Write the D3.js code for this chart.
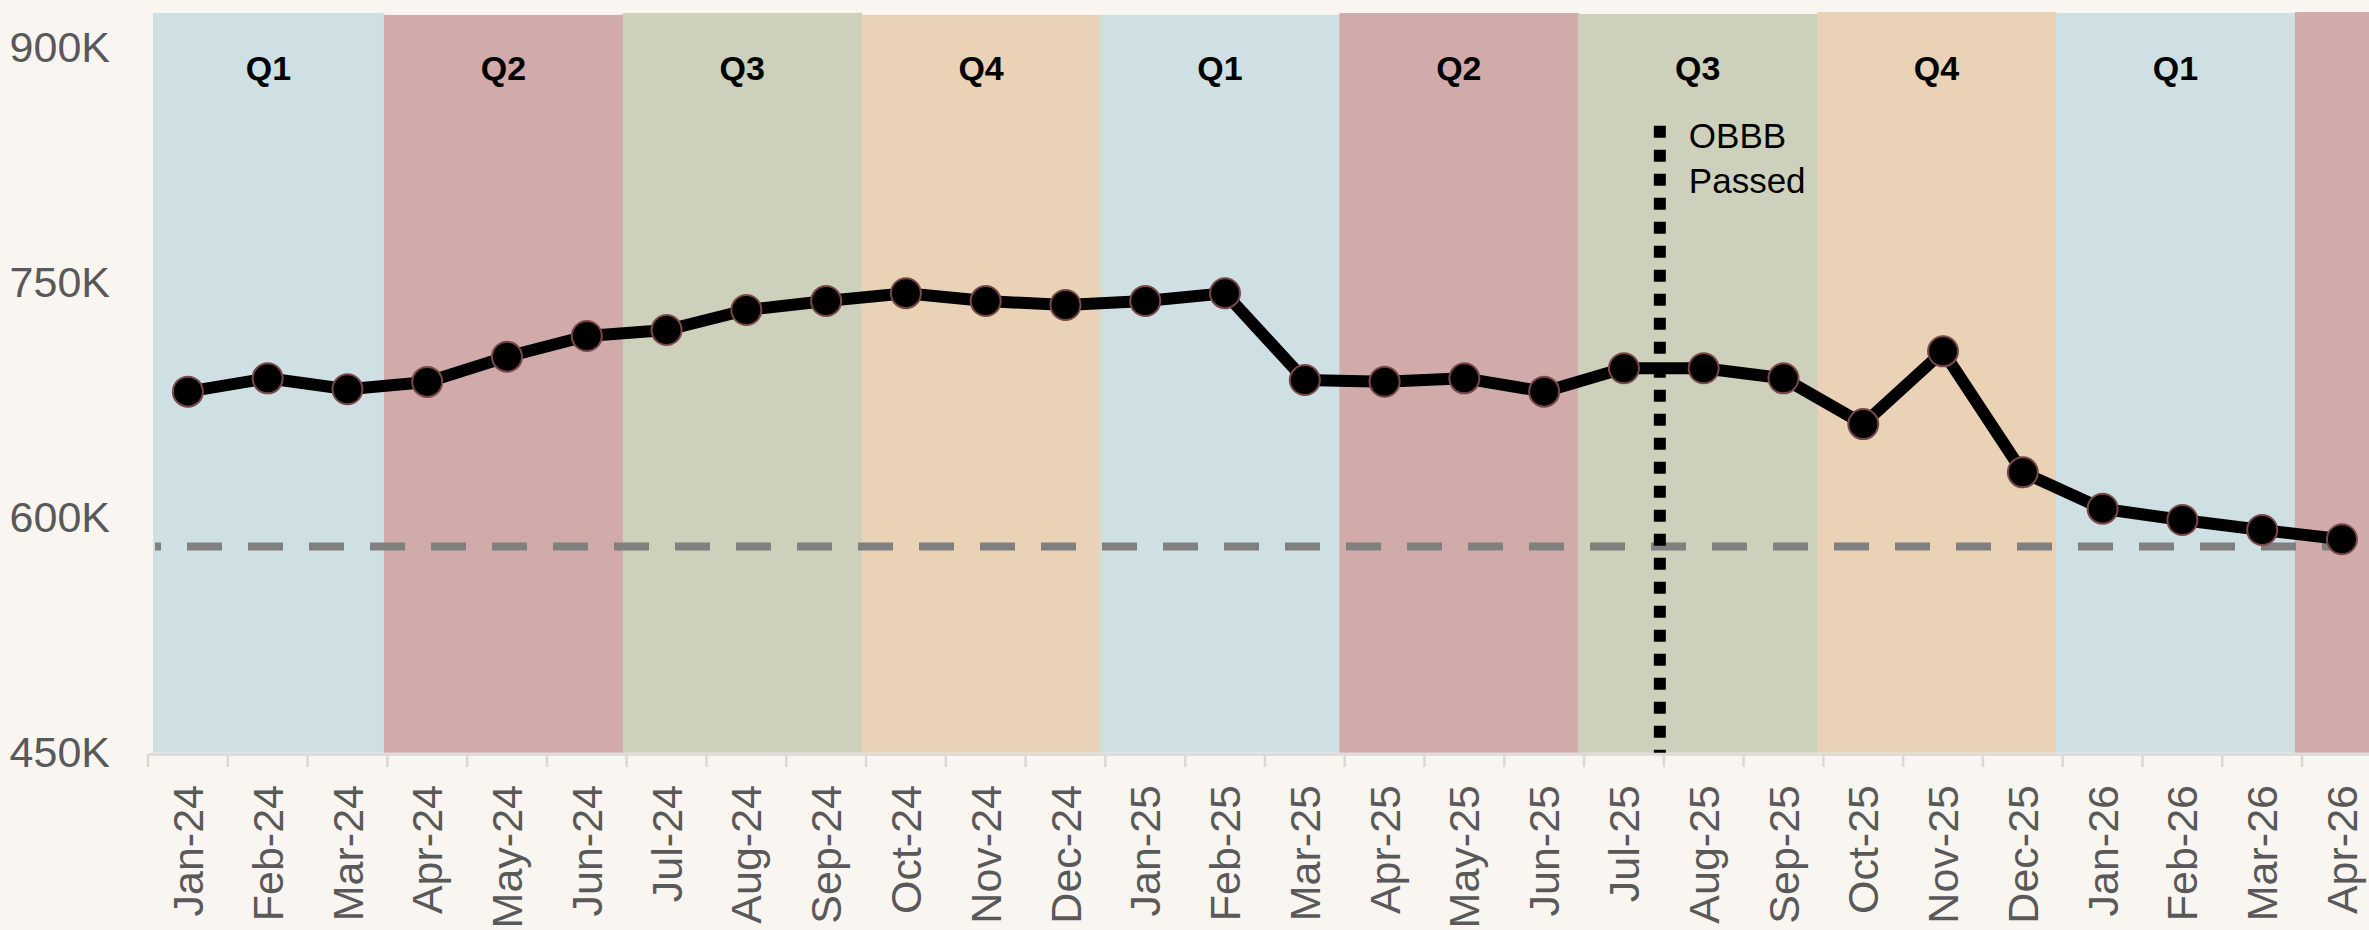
<!DOCTYPE html>
<html>
<head>
<meta charset="utf-8">
<script src="https://cdn.jsdelivr.net/npm/d3@7"></script>
<style>
  html, body { margin: 0; padding: 0; background: #f9f5f0; overflow: hidden; }
  svg { display: block; }
</style>
</head>
<body>
<svg id="chart" width="2369" height="930"></svg>
<script>
// ---------- DATA ----------
const months = ["Jan-24","Feb-24","Mar-24","Apr-24","May-24","Jun-24","Jul-24","Aug-24","Sep-24","Oct-24","Nov-24","Dec-24",
                "Jan-25","Feb-25","Mar-25","Apr-25","May-25","Jun-25","Jul-25","Aug-25","Sep-25","Oct-25","Nov-25","Dec-25",
                "Jan-26","Feb-26","Mar-26","Apr-26"];
// values in thousands
const values = [680.4, 688.9, 681.9, 686.6, 702.7, 715.9, 719.7, 732.5, 738.2, 743.2, 738.2, 735.7,
                738.2, 743.2, 687.8, 686.7, 688.9, 680.4, 695.3, 695.3, 688.9, 659.7, 706.1, 628.9,
                605.7, 598.5, 592.1, 586.2];
const quarterLabels = ["Q1","Q2","Q3","Q4","Q1","Q2","Q3","Q4","Q1","Q2"];
const quarterTops = [922.0, 920.8, 922.0, 920.8, 920.8, 922.0, 921.4, 922.6, 922.0, 922.6]; // thousands
const yTicks = [450, 600, 750, 900];
const referenceLevel = 581.5;         // dashed horizontal line (thousands)
const eventPos = 18.95;               // month index where the event line sits
const eventTop = 850;                 // thousands
const eventLabel = ["OBBB", "Passed"];

// ---------- STYLE ----------
const quarterColors = { Q1: "#cee0e4", Q2: "#d0abaa", Q3: "#cdd1bb", Q4: "#e9d2b5" };
const W = 2369, H = 930;
const left = 148, step = 79.78;
const plotLeft = 153;
const svg = d3.select("#chart");

svg.append("rect").attr("width", W).attr("height", H).attr("fill", "#f9f5f0");

// ---------- SCALES ----------
const y = d3.scaleLinear().domain([450, 900]).range([752.7, 47.5]);
const x = d3.scaleBand().domain(months).range([left, left + months.length * step]).padding(0);
const xi = d3.scaleLinear().domain([0, months.length]).range(x.range());
const xq = d3.scaleBand().domain(d3.range(quarterLabels.length))
  .range([145.1, 145.1 + quarterLabels.length * 238.86]).padding(0);
const qx0 = i => Math.max(xq(i), plotLeft);
const qx1 = i => xq(i) + xq.bandwidth();

// ---------- QUARTER BANDS ----------
const bands = svg.append("g");
bands.selectAll("rect").data(quarterLabels).join("rect")
  .attr("x", (d, i) => qx0(i))
  .attr("width", (d, i) => qx1(i) - qx0(i) + 0.5)
  .attr("y", (d, i) => y(quarterTops[i]))
  .attr("height", (d, i) => y(450) - y(quarterTops[i]))
  .attr("fill", d => quarterColors[d]);

const qLabelData = quarterLabels.map((d, i) => ({ d, cx: (qx0(i) + qx1(i)) / 2 }))
  .filter(o => o.cx + 30 < W);
bands.selectAll("text").data(qLabelData).join("text")
  .attr("x", o => o.cx)
  .attr("y", 80)
  .attr("text-anchor", "middle")
  .attr("font-family", "'Liberation Sans', Arial, sans-serif")
  .attr("font-weight", "bold")
  .attr("font-size", 34)
  .attr("fill", "#000")
  .text(o => o.d);

// ---------- Y AXIS ----------
const yAxis = svg.append("g").attr("transform", `translate(${left},0)`)
  .call(d3.axisLeft(y).tickValues(yTicks).tickFormat(d => d + "K").tickSize(0).tickPadding(38));
yAxis.select(".domain").remove();
yAxis.selectAll("text")
  .attr("font-family", "'Liberation Sans', Arial, sans-serif")
  .attr("font-size", 43)
  .attr("fill", "#595959");

// ---------- X AXIS ----------
const axisY = 754;
const xAxis = svg.append("g").attr("transform", `translate(0,${axisY})`)
  .call(d3.axisBottom(x).tickSize(0).tickSizeOuter(0));
xAxis.select(".domain").attr("stroke", "#d9d9d9").attr("stroke-width", 2.5);
xAxis.selectAll(".tick text")
  .attr("transform", "rotate(-90)")
  .attr("x", -31)
  .attr("y", 0)
  .attr("dy", "0.35em")
  .attr("text-anchor", "end")
  .attr("font-family", "'Liberation Sans', Arial, sans-serif")
  .attr("font-size", 43)
  .attr("fill", "#595959");

// boundary tick marks
svg.append("g").selectAll("line").data(d3.range(months.length + 1)).join("line")
  .attr("x1", d => xi(d)).attr("x2", d => xi(d))
  .attr("y1", axisY).attr("y2", axisY + 13)
  .attr("stroke", "#d9d9d9").attr("stroke-width", 2.5);

// ---------- REFERENCE DASHED LINE ----------
svg.append("line")
  .attr("x1", plotLeft + 2).attr("x2", xi(months.length - 0.43))
  .attr("y1", y(referenceLevel)).attr("y2", y(referenceLevel))
  .attr("stroke", "#808080").attr("stroke-width", 8)
  .attr("stroke-dasharray", "35,26").attr("stroke-dashoffset", 29);

// ---------- EVENT LINE ----------
svg.append("line")
  .attr("x1", xi(eventPos)).attr("x2", xi(eventPos))
  .attr("y1", y(eventTop)).attr("y2", y(450))
  .attr("stroke", "#000").attr("stroke-width", 12)
  .attr("stroke-dasharray", "12,12");

svg.append("text")
  .attr("font-family", "'Liberation Sans', Arial, sans-serif")
  .attr("font-size", 35)
  .attr("fill", "#000")
  .selectAll("tspan").data(eventLabel).join("tspan")
  .attr("x", xi(eventPos) + 29)
  .attr("y", (d, i) => 148 + i * 45)
  .text(d => d);

// ---------- SERIES LINE ----------
const cx = (d, i) => x(months[i]) + x.bandwidth() / 2;
svg.append("path")
  .datum(values)
  .attr("d", d3.line().x(cx).y(d => y(d)))
  .attr("fill", "none")
  .attr("stroke", "#000")
  .attr("stroke-width", 12)
  .attr("stroke-linejoin", "round");

svg.append("g").selectAll("circle").data(values).join("circle")
  .attr("cx", cx)
  .attr("cy", d => y(d))
  .attr("r", 15)
  .attr("fill", "#000")
  .attr("stroke", "#7a4848")
  .attr("stroke-width", 2);
</script>
</body>
</html>
